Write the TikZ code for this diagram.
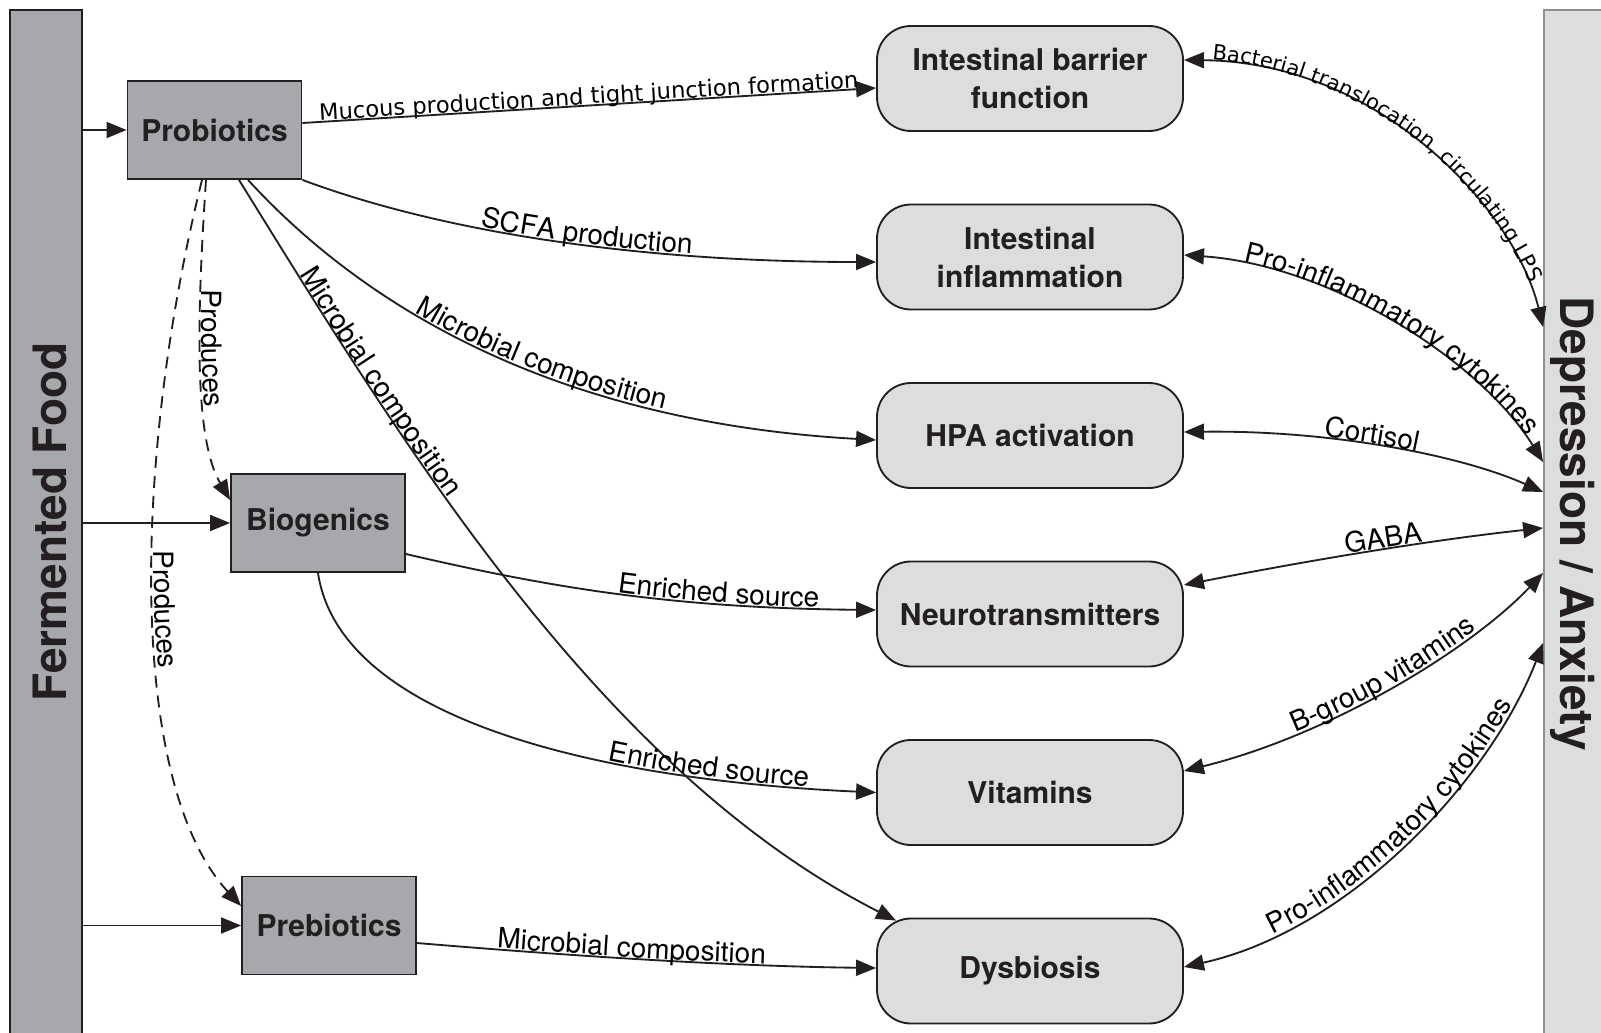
\documentclass[tikz,border=0pt]{standalone}
\usepackage{fontspec}
\setmainfont{TeX Gyre Heros}
\newfontfamily\dejavu{DejaVu Sans}
\usetikzlibrary{arrows.meta,decorations.text}
\definecolor{ink}{HTML}{231F20}
\definecolor{darkbox}{HTML}{A7A8AB}
\definecolor{lightbox}{HTML}{DCDDDF}
\definecolor{barline}{HTML}{8E8F91}
\newcommand{\labfont}{\fontsize{28}{30}\selectfont}
\newcommand{\mucfont}{\fontsize{22.6}{24}\selectfont\dejavu}
\newcommand{\lpsfont}{\fontsize{21}{23}\selectfont\dejavu}
\newcommand{\boxfont}{\fontsize{30}{38}\selectfont\bfseries}
\newcommand{\barfont}{\fontsize{46}{50}\selectfont\bfseries}
\begin{document}
\begin{tikzpicture}[x=1pt,y=-1pt,color=ink,line width=1.85pt,
  sbox/.style={draw=ink, fill=darkbox, minimum width=174pt, minimum height=98pt, inner sep=0pt, font=\boxfont},
  rbox/.style={draw=ink, fill=lightbox, rounded corners=34pt, minimum width=306pt, minimum height=105pt, inner sep=0pt, align=center, font=\boxfont},
  arr/.style={draw=ink, -{Triangle[length=20pt,width=16pt]}},
  darr/.style={draw=ink, {Triangle[length=20pt,width=16pt]}-{Triangle[length=20pt,width=16pt]}},
  dsh/.style={dash pattern=on 12pt off 8pt},
  labc/.style={postaction={decorate}, decoration={text along path, raise=1.5pt, text align=center, text={|\labfont|#1}}},
  labl/.style 2 args={postaction={decorate}, decoration={text along path, raise=1.5pt, text align={left indent=#1}, text={|\labfont|#2}}},
]
\useasboundingbox (0,0) rectangle (1601,1033);
\clip (0,0) rectangle (1601,1033);

% side bars
\node[draw=ink, fill=darkbox, minimum width=72pt, minimum height=1040pt, inner sep=0pt] (ff) at (46,530) {};
\node[rotate=90, anchor=base, font=\barfont, inner sep=0pt] (fft) at (66,522) {Fermented Food};
\node[draw=barline, fill=lightbox, minimum width=72pt, minimum height=1040pt, inner sep=0pt] (dep) at (1580,530) {};
\node[rotate=-90, anchor=base, font=\barfont, inner sep=0pt] (dept) at (1560,524) {Depression / Anxiety};

% left boxes
\node[sbox] (prob) at (214.5,130) {Probiotics};
\node[sbox] (bio) at (318,523) {Biogenics};
\node[sbox] (pre) at (329,925.5) {Prebiotics};

% right boxes
\node[rbox] (bar) at (1030,78.5) {Intestinal barrier\\function};
\node[rbox] (infl) at (1030,257) {Intestinal\\inflammation};
\node[rbox] (hpa) at (1030,435.5) {HPA activation};
\node[rbox] (neu) at (1030,614) {Neurotransmitters};
\node[rbox] (vit) at (1030,792.5) {Vitamins};
\node[rbox] (dys) at (1030,971) {Dysbiosis};

% fermented food to components
\draw[arr] (ff.east |- prob) -- (prob);
\draw[arr] (ff.east |- bio) -- (bio);
\draw[arr] (ff.east |- pre) -- (pre);

% probiotics
\draw[arr, postaction={decorate}, decoration={text along path, raise=1.5pt, text align=center, text={|\mucfont|Mucous production and tight junction formation}}]
  ([yshift=7pt]prob.east) -- ([yshift=-9.5pt]bar.west);
\draw[arr, labc={SCFA production}] (prob.south east) .. controls (450,235) and (650,262) .. ([yshift=-5pt]infl.west);
\draw[arr, labc={Microbial composition}] ([xshift=33.5pt]prob.south) .. controls (340,280) and (520,420) .. ([yshift=-4.5pt]hpa.west);
\draw[arr, labl={112pt}{Microbial composition}] ([xshift=24.5pt]prob.south) .. controls (400,440) and (600,770) .. ([xshift=20pt,yshift=-3pt]dys.north west);
\draw[arr, dsh, labl={110pt}{Produces}] ([xshift=-8.5pt]prob.south) .. controls (196,330) and (195,440) .. ([yshift=23pt]bio.west);
\draw[arr, dsh, labl={375pt}{Produces}] ([xshift=-12.5pt]prob.south) .. controls (135,450) and (125,780) .. ([yshift=19.5pt]pre.west);

% biogenics
\draw[arr, labl={215pt}{Enriched source}] ([yshift=-31pt]bio.east) .. controls (560,590) and (680,608) .. ([yshift=4pt]neu.west);
\draw[arr, labl={366pt}{Enriched source}] (bio.south) .. controls (340,720) and (600,780) .. (vit.west);

% prebiotics
\draw[arr, labl={80pt}{Microbial composition}] ([yshift=-17.5pt]pre.east) .. controls (560,955) and (720,966) .. ([yshift=3pt]dys.west);

% right side
\draw[darr, postaction={decorate}, decoration={text along path, raise=1.5pt, text align={left indent=28pt}, text={|\lpsfont|Bacterial translocation, circulating LPS}}]
  ([yshift=18.5pt]bar.east) .. controls (1380,62) and (1515,210) .. (dep.west |- 0,327);
\draw[darr, labl={60pt}{Pro-inflammatory cytokines}] ([yshift=2pt]infl.east) .. controls (1330,265) and (1480,360) .. (dep.west |- 0,462);
\draw[darr, labl={140pt}{Cortisol}] ([yshift=3.5pt]hpa.east) .. controls (1330,430) and (1460,455) .. (dep.west |- 0,492);
\draw[darr, labl={165pt}{GABA}] ([yshift=29pt]neu.east) .. controls (1300,562) and (1430,540) .. (dep.west |- 0,528);
\draw[darr, labl={118pt}{B-group vitamins}] ([yshift=21.5pt]vit.east) .. controls (1330,735) and (1470,650) .. (dep.west |- 0,573);
\draw[darr, labl={95pt}{Pro-inflammatory cytokines}] ([yshift=4pt]dys.east) .. controls (1350,930) and (1490,780) .. (dep.west |- 0,643);
\end{tikzpicture}
\end{document}
